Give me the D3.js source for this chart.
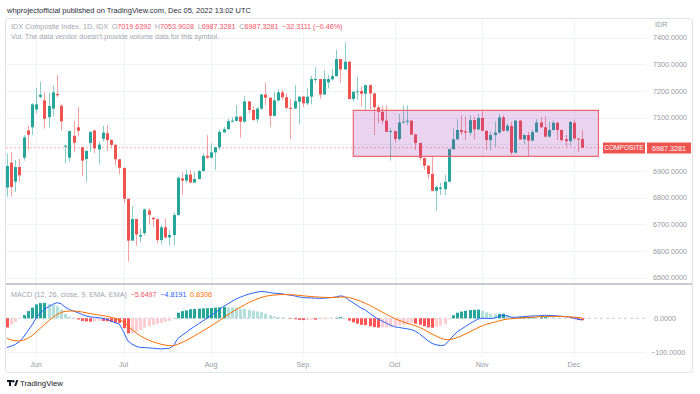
<!DOCTYPE html>
<html>
<head>
<meta charset="utf-8">
<script src="https://d3js.org/d3.v7.min.js"></script>
<style>
    body { margin: 0; background: #fff; }
    svg text { font-family: "Liberation Sans", Arial, sans-serif; }
</style>
</head>
<body>
<svg id="chart" width="700" height="394"></svg>
<script>
// trading calendar (IDX, weekdays minus exchange holidays)
var firstDay = new Date(2022, 4, 20), lastDay = new Date(2022, 11, 5);
var holidays = ["2022-05-26", "2022-06-01", "2022-08-17"];

// daily OHLC
var opens = [6838,6931,6860,6915,6950,7052,7064,7131,7178,7165,
    7102,7134,7189,7145,6991,6950,7032,7064,6989,6945,
    7005,7052,6981,7021,7042,7016,6998,6944,6912,6796,
    6639,6720,6654,6667,6752,6725,6719,6641,6689,6651,
    6660,6735,6872,6864,6887,6857,6870,6900,6957,6950,
    6970,6989,7045,7057,7085,7088,7104,7085,7161,7129,
    7094,7134,7187,7175,7107,7165,7195,7177,7137,7135,
    7160,7179,7154,7179,7243,7245,7187,7232,7244,7256,
    7320,7281,7310,7170,7197,7200,7190,7222,7191,7139,
    7122,7089,7047,7050,7020,7082,7085,7089,7037,7005,
    6949,6920,6889,6826,6833,6832,6860,6982,7019,7054,
    7049,7044,7091,7056,7099,7051,7016,7035,7044,7101,
    7051,7069,6969,7089,7019,7035,7014,7046,7082,7064,
    7029,7054,7081,7054,7019,7012,7081,7022,7019.6392];
var highs = [6966,6972,6941,6945,7035,7070,7154,7210,7235,7195,
    7194,7221,7260,7150,6997,7050,7088,7140,6989,6976,
    7050,7055,7010,7069,7072,7020,7001,6944,6912,6796,
    6769,6720,6684,6760,6762,6725,6722,6697,6722,6679,
    6744,6877,6895,6904,6904,6897,6904,6966,7035,7004,
    6991,7054,7066,7095,7102,7147,7106,7182,7163,7145,
    7141,7189,7231,7177,7197,7207,7204,7191,7172,7222,
    7180,7182,7210,7257,7289,7245,7279,7260,7281,7354,
    7320,7382,7312,7199,7254,7216,7224,7225,7191,7147,
    7146,7146,7060,7050,7114,7146,7146,7090,7040,7006,
    6950,6922,6957,6845,6855,6885,6985,7060,7094,7110,
    7104,7110,7104,7114,7129,7052,7047,7085,7114,7110,
    7079,7085,7091,7091,7038,7047,7054,7094,7104,7106,
    7085,7089,7085,7056,7035,7088,7091,7024,7053.9028];
var lows = [6804,6804,6822,6860,6939,6979,7035,7116,7172,7059,
    7064,7104,7176,7051,6929,6935,6970,7031,6882,6860,
    6972,6966,6925,7010,6976,6987,6922,6887,6779,6560,
    6639,6620,6634,6660,6700,6691,6629,6625,6647,6622,
    6622,6733,6810,6854,6855,6855,6868,6897,6945,6948,
    6904,6979,7045,7054,7082,7086,7025,7082,7116,7089,
    7082,7129,7147,7066,7105,7160,7166,7132,7020,7132,
    7075,7141,7147,7150,7232,7170,7185,7210,7239,7254,
    7232,7279,7169,7160,7167,7141,7129,7132,7035,7079,
    7075,7046,6939,7007,7014,7080,7072,7036,6979,6939,
    6904,6870,6824,6752,6810,6810,6858,6979,7017,7035,
    7016,7035,7019,7054,7050,6979,6979,6991,7039,7047,
    7047,6960,6966,7016,7001,6956,7010,7044,7062,7026,
    7026,7052,7016,7010,6991,6995,7016,6972,6987.3281];
var closes = [6919,6840,6915,6884,7026,7036,7150,7150,7186,7096,
    7144,7195,7184,7086,6995,7050,7006,7051,6939,6976,
    7046,6985,6999,7044,7016,6998,6944,6912,6796,6639,
    6720,6662,6660,6756,6736,6719,6641,6689,6651,6660,
    6735,6875,6864,6887,6857,6870,6900,6957,6950,6970,
    6989,7047,7057,7087,7089,7104,7085,7161,7129,7091,
    7134,7187,7175,7107,7165,7195,7177,7137,7134,7162,
    7179,7154,7179,7245,7245,7187,7245,7245,7256,7320,
    7281,7310,7170,7197,7199,7190,7222,7191,7139,7122,
    7089,7047,7050,7020,7082,7085,7089,7037,7005,6949,
    6920,6889,6826,6840,6838,6860,6982,7019,7054,7046,
    7044,7091,7056,7099,7051,7016,7035,7044,7101,7051,
    7070,6969,7089,7019,7035,7014,7046,7082,7064,7029,
    7054,7081,7054,7016,7012,7084,7022,7019.6392,6987.3281];

// MACD (12, 26, close, 9) lines
var macdLine = [-86,-82,-77,-69,-55,-38,-20,0,15,27,
    34,41,46,43,33,26,21,17,11,7,
    4,3,2,0,-3,-8,-13,-17,-40,-66,
    -76,-82,-86,-86,-87,-88,-89,-90,-89,-88,
    -80,-60,-50,-42,-32,-24,-16,-8,0,8,
    17,26,35,42,50,57,62,67,71,74,
    77,79,78,76,74,73,72,70,68,66,
    63,61,60,60,59,59,59,60,61,63,
    66,64,54,46,38,30,24,15,6,-2,
    -8,-14,-20,-25,-27,-29,-31,-33,-38,-46,
    -56,-66,-74,-78,-80,-79,-66,-52,-40,-32,
    -24,-16,-9,-2,0,0,-1,1,5,9,
    7,3,3,4,5,6,7,7,8,9,
    8,8,7,6,5,4,1,-3,-4.8191];
var signalLine = [-59,-63.6,-66.3,-66.8,-64.4,-59.1,-51.3,-41,-29.8,-18.4,
    -7.9,1.9,10.7,17.2,20.4,21.5,21.4,20.5,18.6,16.3,
    13.8,11.7,9.7,7.8,5.6,2.9,-0.3,-3.6,-10.9,-21.9,
    -32.7,-42.6,-51.3,-58.2,-64,-68.8,-72.8,-76.3,-78.8,-80.6,
    -80.5,-76.4,-71.1,-65.3,-58.6,-51.7,-44.6,-37.3,-29.8,-22.2,
    -14.4,-6.3,2,10,18,25.8,33,39.8,46,51.6,
    56.7,61.2,64.6,66.9,68.3,69.2,69.8,69.8,69.4,68.7,
    67.6,66.3,65,64,63,62.2,61.6,61.3,61.2,61.6,
    62.5,62.8,61,58,54,49.2,44.2,38.4,31.9,25.1,
    18.5,12,5.6,-0.5,-5.8,-10.4,-14.5,-18.2,-22.2,-27,
    -32.8,-39.4,-46.3,-52.6,-58.1,-62.3,-63,-60.8,-56.6,-51.7,
    -46.2,-40.2,-34,-27.6,-22.1,-17.7,-14.4,-11.3,-8,-4.6,
    -2.3,-1.2,-0.4,0.5,1.4,2.3,3.2,4,4.8,5.6,
    5.5,5.6,5.5,5.2,4.8,4.3,3.4,2.2,0.8306];

var priceTicks = [6500,6600,6700,6800,6900,7000,7100,7200,7300,7400];
var macdTicks = [0, -100];

// rectangle drawing: bar index span and price span
var zoneBars = [83.1, 141.9];
var zonePrices = [6955, 7127.5];

var up = "#26a69a", down = "#ef5350";

function draw() {
    var svg = d3.select("#chart");
    var left = 6, right = 646;
    var mainTop = 19, macdBottom = 357;

    var fmtDay = d3.timeFormat("%Y-%m-%d");
    var dates = d3.timeDays(firstDay, d3.timeDay.offset(lastDay, 1))
        .filter(function(d) { return d.getDay() % 6 != 0 && holidays.indexOf(fmtDay(d)) < 0; });

    var x = d3.scaleLinear().domain([-0.2, 153.3]).range([left, right]);
    var y = d3.scaleLinear().domain([6500, 7400]).range([277.7, 37.7]);
    var ym = d3.scaleLinear().domain([-100, 0]).range([352.3, 318.3]);
    var f4 = d3.format(".4f");
    var minus = function(s) { return s.replace("-", "\u2212"); };

    // frame
    svg.append("rect").attr("x", 5.5).attr("y", 18.5).attr("width", 687).attr("height", 354)
        .attr("rx", 3).attr("fill", "none").attr("stroke", "#e0e3eb");

    // month ticks
    var monthIdx = [];
    dates.forEach(function(d, i) {
        if (i > 0 && d.getMonth() != dates[i - 1].getMonth()) monthIdx.push(i);
    });
    var grid = svg.append("g").attr("stroke", "#f0f3fa").attr("stroke-width", 1);
    grid.selectAll(".vg").data(monthIdx).enter().append("line")
        .attr("x1", function(i) { return Math.round(x(i)) + 0.5; })
        .attr("x2", function(i) { return Math.round(x(i)) + 0.5; })
        .attr("y1", mainTop).attr("y2", macdBottom);
    grid.selectAll(".hg").data(priceTicks).enter().append("line")
        .attr("x1", left).attr("x2", right)
        .attr("y1", function(d) { return Math.round(y(d)) + 0.5; })
        .attr("y2", function(d) { return Math.round(y(d)) + 0.5; });
    grid.append("line").attr("x1", left).attr("x2", right)
        .attr("y1", Math.round(ym(-100)) + 0.5).attr("y2", Math.round(ym(-100)) + 0.5);

    // pane separator
    svg.append("line").attr("x1", 6).attr("x2", 692).attr("y1", 284).attr("y2", 284)
        .attr("stroke", "#c9cbd1").attr("stroke-width", 2);

    // last price line
    var n = opens.length - 1;
    var last = closes[n];
    svg.append("line").attr("x1", left).attr("x2", right)
        .attr("y1", y(last)).attr("y2", y(last))
        .attr("stroke", down).attr("stroke-opacity", 0.45).attr("stroke-dasharray", "2,2");

    // candles
    var bars = d3.range(opens.length);
    var cg = svg.append("g");
    cg.selectAll(".wick").data(bars).enter().append("line")
        .attr("x1", function(i) { return Math.round(x(i)) + 0.5; })
        .attr("x2", function(i) { return Math.round(x(i)) + 0.5; })
        .attr("y1", function(i) { return y(highs[i]); })
        .attr("y2", function(i) { return y(lows[i]); })
        .attr("stroke", function(i) { return closes[i] >= opens[i] ? up : down; })
        .attr("stroke-opacity", 0.55);
    cg.selectAll(".body").data(bars).enter().append("rect")
        .attr("x", function(i) { return Math.round(x(i)) - 1; })
        .attr("width", 3)
        .attr("y", function(i) { return y(Math.max(opens[i], closes[i])); })
        .attr("height", function(i) { return Math.max(1, Math.abs(y(opens[i]) - y(closes[i]))); })
        .attr("fill", function(i) { return closes[i] >= opens[i] ? up : down; });

    // rectangle drawing
    svg.append("rect")
        .attr("x", x(zoneBars[0])).attr("width", x(zoneBars[1]) - x(zoneBars[0]))
        .attr("y", y(zonePrices[1])).attr("height", y(zonePrices[0]) - y(zonePrices[1]))
        .attr("fill", "rgba(156,39,176,0.2)").attr("stroke", "#ee6471").attr("stroke-width", 1.2);

    // price axis (the 7000 label sits under the last price tag)
    var ly = Math.round(y(last));
    var ax = svg.append("g").attr("font-size", 7.2).attr("fill", "#9598a1");
    ax.selectAll(".pt").data(priceTicks.filter(function(d) { return Math.abs(y(d) - ly) > 8; }))
        .enter().append("text")
        .attr("x", 653).attr("y", function(d) { return y(d) + 2.5; })
        .text(function(d) { return f4(d); });
    ax.append("text").attr("x", 655).attr("y", 26.5).text("IDR");
    ax.selectAll(".mt").data(macdTicks).enter().append("text")
        .attr("x", function(d) { return d < 0 ? 651 : 654; })
        .attr("y", function(d) { return ym(d) + 2.5; })
        .text(function(d) { return minus(f4(d)); });
    ax.selectAll(".mon").data(monthIdx).enter().append("text")
        .attr("x", function(i) { return x(i); }).attr("y", 366.5).attr("text-anchor", "middle")
        .text(function(i) { return d3.timeFormat("%b")(dates[i]); });

    // last price labels
    svg.append("rect").attr("x", 603).attr("y", ly - 5.5).attr("width", 42).attr("height", 11).attr("fill", down);
    svg.append("rect").attr("x", 647).attr("y", ly - 5.5).attr("width", 44).attr("height", 11).attr("fill", down);
    svg.append("text").attr("x", 624).attr("y", ly + 2.4).attr("text-anchor", "middle")
        .attr("font-size", 6.6).attr("fill", "#fff").text("COMPOSITE");
    svg.append("text").attr("x", 669).attr("y", ly + 2.5).attr("text-anchor", "middle")
        .attr("font-size", 7.2).attr("fill", "#fff").text(f4(last));

    // MACD pane
    var hist = bars.map(function(i) { return macdLine[i] - signalLine[i]; });
    svg.append("line").attr("x1", left).attr("x2", right)
        .attr("y1", ym(0)).attr("y2", ym(0))
        .attr("stroke", "#9598a1").attr("stroke-opacity", 0.5).attr("stroke-dasharray", "3,3");
    svg.append("g").selectAll("rect").data(bars).enter().append("rect")
        .attr("x", function(i) { return Math.round(x(i)) - 1; })
        .attr("width", 3)
        .attr("y", function(i) { return Math.min(ym(0), ym(hist[i])); })
        .attr("height", function(i) { return Math.abs(ym(hist[i]) - ym(0)); })
        .attr("fill", function(i) {
            var prev = i > 0 ? hist[i - 1] : hist[i];
            if (hist[i] >= 0) return prev < hist[i] ? "#26a69a" : "#b2dfdb";
            return prev < hist[i] ? "#ffcdd2" : "#ff5252";
        });
    var line = function(arr) {
        return d3.line().x(function(i) { return x(i); }).y(function(i) { return ym(arr[i]); })(bars);
    };
    svg.append("path").attr("d", line(macdLine)).attr("fill", "none").attr("stroke", "#2962ff").attr("stroke-width", 1);
    svg.append("path").attr("d", line(signalLine)).attr("fill", "none").attr("stroke", "#ff6d00").attr("stroke-width", 1);

    // header texts
    svg.append("text").attr("x", 7).attr("y", 12.5).attr("font-size", 7.5).attr("fill", "#2a2e39")
        .text("whprojectofficial published on TradingView.com, Dec 05, 2022 13:02 UTC");

    var leg = svg.append("text").attr("x", 11).attr("y", 28.5).attr("font-size", 7.2).attr("fill", "#a3a6af");
    leg.append("tspan").text("IDX Composite Index, 1D, IDX\u2002");
    [["O", opens[n]], ["H", highs[n]], ["L", lows[n]], ["C", closes[n]]].forEach(function(p) {
        leg.append("tspan").text(p[0]);
        leg.append("tspan").attr("fill", "#f7525f").text(f4(p[1]) + "\u2002");
    });
    var chg = closes[n] - closes[n - 1];
    leg.append("tspan").attr("fill", "#f7525f")
        .text(minus(f4(chg)) + " (" + minus(d3.format(".2f")(chg / closes[n - 1] * 100)) + "%)");

    svg.append("text").attr("x", 11).attr("y", 38.5).attr("font-size", 7.2).attr("fill", "#a3a6af")
        .text("Vol: The data vendor doesn't provide volume data for this symbol.");

    var ml = svg.append("text").attr("x", 11).attr("y", 296.8).attr("font-size", 7.2).attr("fill", "#a3a6af");
    ml.append("tspan").text("MACD (12, 26, close, 9, EMA, EMA)\u2002");
    ml.append("tspan").attr("fill", "#f7525f").text(minus(f4(hist[n])) + "\u2002");
    ml.append("tspan").attr("fill", "#2962ff").text(minus(f4(macdLine[n])) + "\u2002");
    ml.append("tspan").attr("fill", "#ff6d00").text(f4(signalLine[n]));

    // TradingView logo
    var logo = svg.append("g").attr("fill", "#131722");
    logo.append("rect").attr("x", 7).attr("y", 380).attr("width", 5).attr("height", 2);
    logo.append("rect").attr("x", 9).attr("y", 380).attr("width", 2).attr("height", 6);
    logo.append("circle").attr("cx", 13.3).attr("cy", 381.2).attr("r", 1.2);
    logo.append("path").attr("d", "M14.2,386 L16.3,380 L18.3,380 L16.2,386 Z");
    svg.append("text").attr("x", 20).attr("y", 386).attr("font-size", 7.8).attr("fill", "#131722")
        .text("TradingView");
}
draw();
</script>
</body>
</html>
